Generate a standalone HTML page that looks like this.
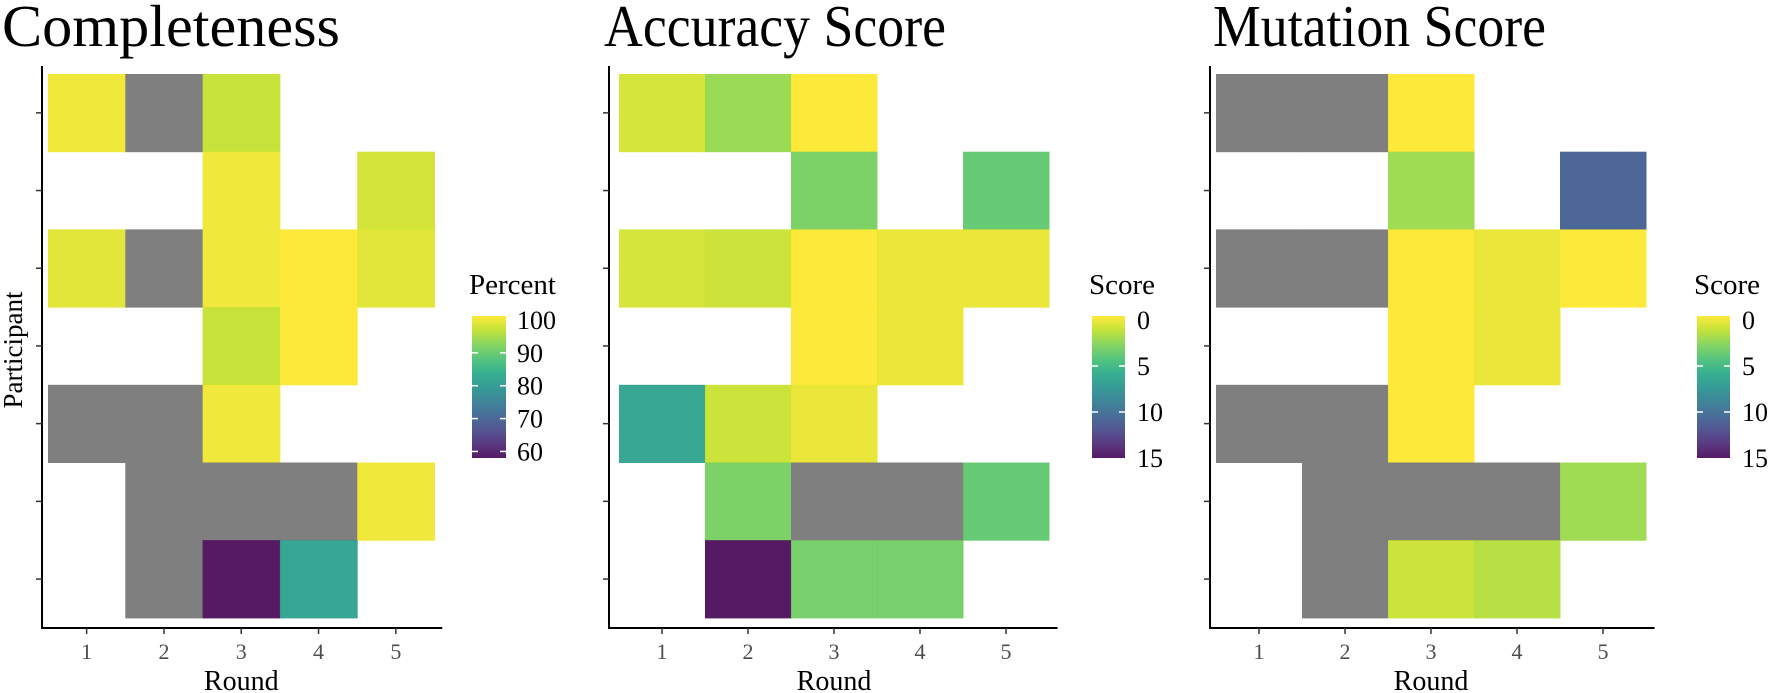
<!DOCTYPE html>
<html><head><meta charset="utf-8">
<style>
html,body{margin:0;padding:0;background:#fff;}
svg{display:block;font-family:"Liberation Serif",serif;}
</style></head>
<body>
<svg id="chart" width="1772" height="693" viewBox="0 0 1772 693">
<defs>
<linearGradient id="vir" x1="0" y1="1" x2="0" y2="0">
<stop offset="0" stop-color="#440154"/><stop offset="0.1" stop-color="#482475"/><stop offset="0.2" stop-color="#414487"/><stop offset="0.3" stop-color="#355f8d"/><stop offset="0.4" stop-color="#2a788e"/><stop offset="0.5" stop-color="#21918c"/><stop offset="0.6" stop-color="#22a884"/><stop offset="0.7" stop-color="#44bf70"/><stop offset="0.8" stop-color="#7ad151"/><stop offset="0.9" stop-color="#bddf26"/><stop offset="1" stop-color="#fde725"/>
</linearGradient>
</defs>
</svg>
<script>
// Data: rows top->bottom (participants), columns rounds 1..5. null = empty, "NA" = gray
const rounds = [1,2,3,4,5];
const completeness = [
 [99,"NA",96,null,null],
 [null,null,99,null,97],
 [98,"NA",99,100,98],
 [null,null,96,100,null],
 ["NA","NA",99,null,null],
 [null,"NA","NA","NA",99],
 [null,"NA",54,81,null]
];
const accuracy = [
 [1,2.5,0,null,null],
 [null,null,3.3,null,4],
 [1,1.3,0,0.5,0.5],
 [null,null,0,0.5,null],
 [6.7,1.3,0.5,null,null],
 [null,3.3,"NA","NA",4],
 [null,15,3.5,3.5,null]
];
const mutation = [
 ["NA","NA",0,null,null],
 [null,null,2.4,null,11],
 ["NA","NA",0,0.5,0],
 [null,null,0,0.5,null],
 ["NA","NA",0,null,null],
 [null,"NA","NA","NA",2.4],
 [null,"NA",1.3,1.8,null]
];
const percentTicks = [100,90,80,70,60];
const scoreTicks = [0,5,10,15];

const stops=["#440154","#482475","#414487","#355f8d","#2a788e","#21918c","#22a884","#44bf70","#7ad151","#bddf26","#fde725"];
function hex(h){return [parseInt(h.substr(1,2),16),parseInt(h.substr(3,2),16),parseInt(h.substr(5,2),16)];}
function viridis(t){t=Math.max(0,Math.min(1,t));const s=t*10;const i=Math.min(9,Math.floor(s));const f=s-i;const a=hex(stops[i]),b=hex(stops[i+1]);
 return "rgb("+a.map((v,k)=>Math.round(v+(b[k]-v)*f)).join(",")+")";}

const NS="http://www.w3.org/2000/svg";
const svg=document.getElementById("chart");
function el(tag,attrs,parent){const e=document.createElementNS(NS,tag);for(const k in attrs)e.setAttribute(k,attrs[k]);(parent||svg).appendChild(e);return e;}

const top0=74, rowH=77.7, nRows=7;
const panels=[
 {name:"completeness",title:"Completeness",tx:2,tw:338,data:completeness,x0:48,unit:77.3,axisX:42,tmin:58,tmax:100,rev:false,
  leg:{title:"Percent",x:472,w:34,ticks:percentTicks,lab:517}},
 {name:"accuracy",title:"Accuracy Score",tx:604,tw:342,data:accuracy,x0:619,unit:86,axisX:609,tmin:0,tmax:15,rev:true,
  leg:{title:"Score",x:1092,w:33,ticks:scoreTicks,lab:1137}},
 {name:"mutation",title:"Mutation Score",tx:1213,tw:333,data:mutation,x0:1216,unit:86,axisX:1210,tmin:0,tmax:15,rev:true,
  leg:{title:"Score",x:1697,w:33,ticks:scoreTicks,lab:1742}}
];
const legTop=316, legBot=458;

panels.forEach(p=>{
 const g=el("g",{});
 
 
 const xs=i=>p.x0+i*p.unit;
 const ys=r=>top0+r*rowH;
 const tv=v=>p.rev?1-(v-p.tmin)/(p.tmax-p.tmin):(v-p.tmin)/(p.tmax-p.tmin);
 const t=el("text",{x:p.tx,y:46,"font-size":59,fill:"#000",textLength:p.tw,lengthAdjust:"spacingAndGlyphs"},g);t.textContent=p.title;
 
 
 p.data.forEach((row,r)=>row.forEach((v,c)=>{
  if(v===null)return;
  const fill=v==="NA"?"#7f7f7f":viridis(tv(v));
  const rc=el("rect",{x:xs(c),y:ys(r),width:p.unit+0.5,height:rowH+0.5,fill:fill,"fill-opacity":v==="NA"?1:0.9},g);
  
  
 }));
 const pEnd=p.x0+5*p.unit+p.unit*0.1;
 const yAxis=el("line",{x1:p.axisX,y1:66,x2:p.axisX,y2:628,stroke:"#000","stroke-width":2},g);
 
 
 const xAxis=el("line",{x1:p.axisX-1,y1:628,x2:pEnd,y2:628,stroke:"#000","stroke-width":2},g);
 
 
 for(let r=0;r<nRows;r++){
  const tk=el("line",{x1:p.axisX-6,y1:ys(r)+rowH/2,x2:p.axisX,y2:ys(r)+rowH/2,stroke:"#333","stroke-width":1.5},g);
  
  
 }
 rounds.forEach((rd,i)=>{
  const cx=xs(i)+p.unit/2;
  const tk=el("line",{x1:cx,y1:628,x2:cx,y2:634,stroke:"#333","stroke-width":1.5},g);
  
  
  const lb=el("text",{x:cx,y:659,"font-size":22,fill:"#4d4d4d","text-anchor":"middle"},g);lb.textContent=rd;
  
  
 });
 const xt=el("text",{x:(p.x0+xs(5))/2,y:690,"font-size":28,fill:"#000","text-anchor":"middle"},g);xt.textContent="Round";
 
 
 const L=p.leg;
 const lt=el("text",{x:L.x-3,y:294,"font-size":29,fill:"#000"},g);lt.textContent=L.title;
 
 
 const bar=el("rect",{x:L.x,y:legTop,width:L.w,height:legBot-legTop,fill:"url(#vir)","fill-opacity":0.9},g);
 
 
 const ly=v=>{const f=(v-p.tmin)/(p.tmax-p.tmin);return p.rev?legTop+4+f*(legBot-legTop-4):legBot-f*(legBot-legTop-4);};
 L.ticks.forEach(v=>{
  const y=ly(v);
  if(y>legTop+6&&y<legBot-4){
   el("line",{x1:L.x,y1:y,x2:L.x+6,y2:y,stroke:"#fff","stroke-width":1.5},g);
   el("line",{x1:L.x+L.w-6,y1:y,x2:L.x+L.w,y2:y,stroke:"#fff","stroke-width":1.5},g);
  }
  const tx=el("text",{x:L.lab,y:y+9,"font-size":26,fill:"#000"},g);tx.textContent=v;
  
  
 });
});
const yt=el("text",{x:0,y:0,"font-size":27,fill:"#000","text-anchor":"middle",transform:"translate(22,350) rotate(-90)"});
yt.textContent="Participant";


</script>
</body></html>
